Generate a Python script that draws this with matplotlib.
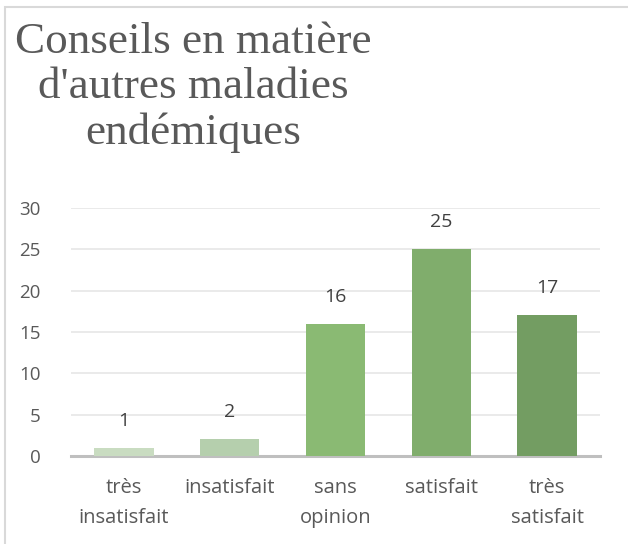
import matplotlib.pyplot as plt
from matplotlib.patches import Rectangle

categories = ["très\ninsatisfait", "insatisfait", "sans\nopinion", "satisfait", "très\nsatisfait"]
values = [1, 2, 16, 25, 17]
colors = ["#c9dcc1", "#b5cfad", "#8aba73", "#80ad6c", "#739d62"]
yticks = [0, 5, 10, 15, 20, 25, 30]

grey = "#595959"
fig = plt.figure(figsize=(6.28, 5.44), dpi=100)

# outer chart border
fig.patches.append(Rectangle((5 / 628, -0.1), 1.1, (544 - 7) / 544 + 0.1,
                             transform=fig.transFigure, fill=False,
                             edgecolor="#d9d9d9", linewidth=1.5))

ax = fig.add_axes([71 / 628, (544 - 456) / 544, (600 - 71) / 628, (456 - 208) / 544])
x = range(len(values))
bars = ax.bar(x, values, width=0.56, color=colors, zorder=3)
for xi, v in zip(x, values):
    ax.text(xi, v + 2.2, str(v), ha="center", va="bottom", fontsize=14,
            color="#404040", family="Open Sans")

ax.set_xlim(-0.5, len(values) - 0.5)
ax.set_ylim(0, 30)
ax.set_yticks(yticks)
ax.yaxis.grid(True, color="#e6e6e6", linewidth=1.2, zorder=0)
ax.set_xticks(list(x))
ax.set_xticklabels(categories, fontsize=14.5, color=grey, family="Open Sans", linespacing=1.65)
ax.tick_params(axis="y", labelsize=13.5, labelcolor=grey, length=0, pad=22)
ax.tick_params(axis="x", length=0, pad=16)
for lbl in ax.get_yticklabels():
    lbl.set_family("Open Sans")
for s in ["top", "right", "left"]:
    ax.spines[s].set_visible(False)
ax.spines["bottom"].set_color("#bfbfbf")
ax.spines["bottom"].set_linewidth(2.2)

fig.text(193 / 628, 1 - 22 / 544, "Conseils en matière\nd'autres maladies\nendémiques",
         ha="center", va="top", fontsize=32.5, color=grey, family="Liberation Serif",
         linespacing=1.17)

fig.savefig("out.png", dpi=100)
